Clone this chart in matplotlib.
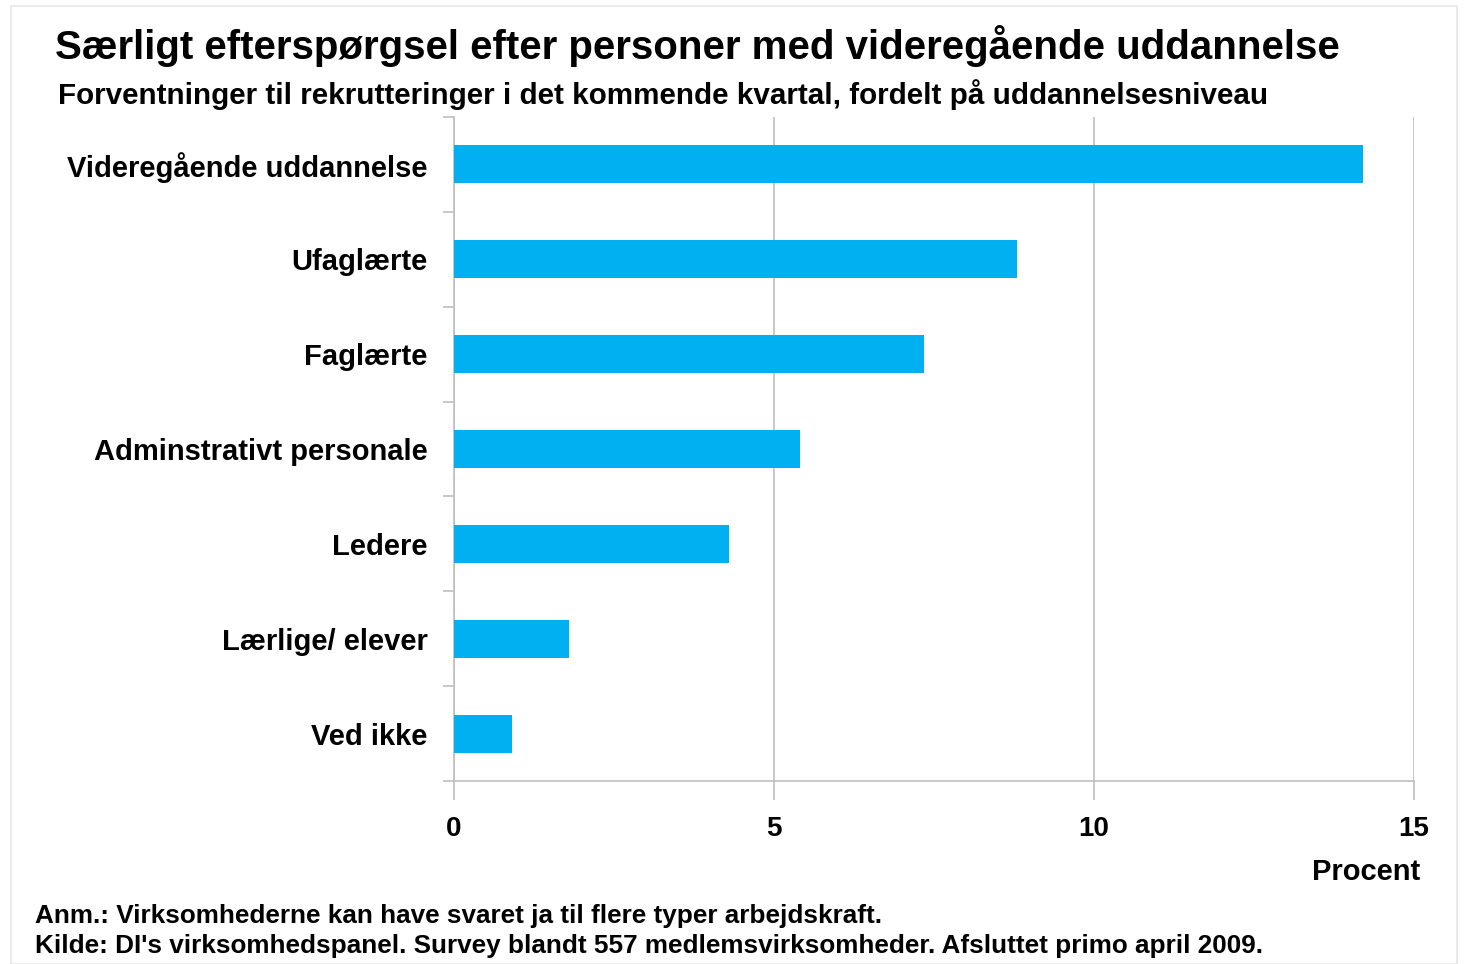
import matplotlib
matplotlib.use("Agg")
import matplotlib.pyplot as plt
from matplotlib.patches import Rectangle

plt.rcParams['font.family'] = ['Liberation Sans', 'DejaVu Sans']
plt.rcParams['font.weight'] = 'bold'

# Data
categories = ['Videregående uddannelse', 'Ufaglærte', 'Faglærte',
              'Adminstrativt personale', 'Ledere', 'Lærlige/ elever', 'Ved ikke']
values = [14.2, 8.8, 7.35, 5.4, 4.3, 1.8, 0.9]
x_ticks = [0, 5, 10, 15]

title = 'Særligt efterspørgsel efter personer med videregående uddannelse'
subtitle = 'Forventninger til rekrutteringer i det kommende kvartal, fordelt på uddannelsesniveau'
note = 'Anm.: Virksomhederne kan have svaret ja til flere typer arbejdskraft.'
source = "Kilde: DI's virksomhedspanel. Survey blandt 557 medlemsvirksomheder. Afsluttet primo april 2009."

bar_color = '#00B0F0'
grid_color = '#BFBFBF'

fig = plt.figure(figsize=(14.68, 9.64), dpi=100)
fig.patch.set_facecolor('white')

# light frame around the chart area
fig.add_artist(Rectangle((11 / 1468, 0), 1 - 22 / 1468, 1 - 6 / 964,
                         transform=fig.transFigure, fill=False,
                         edgecolor='#E6E6E6', linewidth=1.2))

ax = fig.add_axes([454 / 1468, 1 - 781 / 964, 960 / 1468, 664 / 964])

n = len(categories)
pos = list(range(n))
ax.barh(pos, values, height=0.4, color=bar_color, zorder=3)

ax.set_xlim(0, 15)
ax.set_ylim(n - 0.5, -0.5)
ax.set_xticks(x_ticks)
ax.set_xticklabels([str(t) for t in x_ticks], fontsize=20, fontweight='bold')
ax.tick_params(axis='x', length=14, color=grid_color, pad=11, width=1.2)

# category labels at bar centres, tick marks at boundaries
ax.set_yticks([p - 0.5 for p in pos] + [n - 0.5])
ax.set_yticklabels([])
ax.set_yticks(pos, minor=True)
ax.set_yticklabels(categories, minor=True, fontsize=21, fontweight='bold')
ax.tick_params(axis='y', which='major', length=8, color=grid_color, width=1.2)
ax.tick_params(axis='y', which='minor', length=0, pad=19)
for lbl in ax.get_yticklabels(minor=True):
    lbl.set_va('center_baseline')

ax.grid(axis='x', color=grid_color, linewidth=1.2, zorder=0)
for side in ['top', 'right']:
    ax.spines[side].set_visible(False)
for side in ['left', 'bottom']:
    ax.spines[side].set_color(grid_color)
    ax.spines[side].set_linewidth(1.2)

fig.text(55 / 1468, 1 - 46 / 964, title, fontsize=29, fontweight='bold',
         va='center', ha='left')
fig.text(58 / 1468, 1 - 95 / 964, subtitle, fontsize=21.3, fontweight='bold',
         va='center', ha='left')
fig.text(1420 / 1468, 1 - 872 / 964, 'Procent', fontsize=21, fontweight='bold',
         va='center', ha='right')
fig.text(35 / 1468, 1 - 916 / 964, note, fontsize=18.8, fontweight='bold',
         va='center', ha='left')
fig.text(35 / 1468, 1 - 946 / 964, source, fontsize=18.8, fontweight='bold',
         va='center', ha='left')

fig.savefig('out.png', dpi=100)
